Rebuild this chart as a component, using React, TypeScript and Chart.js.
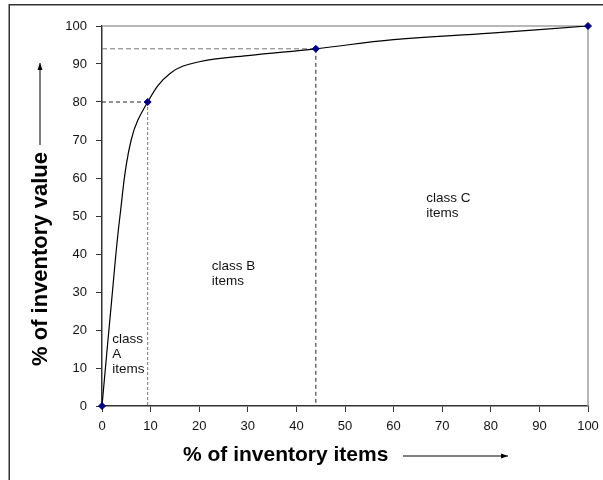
import React, { useEffect, useRef } from 'react';
import { Chart, registerables } from 'chart.js';

Chart.register(...registerables);

// ---- data ----
const curveX = [0, 2, 3.7, 6, 9.4, 14, 20, 30, 44, 60, 80, 100];
const curveY = [0, 28, 50, 70, 80, 87.5, 90.6, 92.2, 94, 96.4, 98.1, 100];
const markerX = [0, 9.4, 44, 100];
const markerY = [0, 80, 94, 100];
const guideX = [9.4, 44];
const guideY = [80, 94];
const xTitle = '% of inventory items';
const yTitle = '% of inventory value';
const classLines = [['class', 'A', 'items'], ['class B', 'items'], ['class C', 'items']];
const classX = [2.1, 22.6, 66.7];
const classY = [17.6, 36.8, 54.7];

const FONT = '"Liberation Sans", Arial, sans-serif';

function drawArrow(ctx: CanvasRenderingContext2D, x1: number, y1: number, x2: number, y2: number) {
  ctx.save();
  ctx.strokeStyle = '#000';
  ctx.fillStyle = '#000';
  ctx.lineWidth = 1;
  ctx.beginPath();
  ctx.moveTo(x1, y1);
  ctx.lineTo(x2, y2);
  ctx.stroke();
  const ang = Math.atan2(y2 - y1, x2 - x1);
  const len = 7, w = 2.5;
  ctx.beginPath();
  ctx.moveTo(x2, y2);
  ctx.lineTo(x2 - len * Math.cos(ang) + w * Math.sin(ang), y2 - len * Math.sin(ang) - w * Math.cos(ang));
  ctx.lineTo(x2 - len * Math.cos(ang) - w * Math.sin(ang), y2 - len * Math.sin(ang) + w * Math.cos(ang));
  ctx.closePath();
  ctx.fill();
  ctx.restore();
}

const decorPlugin = {
  id: 'decor',
  beforeDatasetsDraw(chart: any) {
    const { ctx, chartArea, scales } = chart;
    const xs = scales.x, ys = scales.y;
    ctx.save();
    // plot-area border (gray)
    ctx.strokeStyle = '#a0a0a0';
    ctx.lineWidth = 1.5;
    ctx.beginPath();
    ctx.moveTo(chartArea.left, chartArea.top);
    ctx.lineTo(chartArea.right, chartArea.top);
    ctx.lineTo(chartArea.right, chartArea.bottom);
    ctx.stroke();
    // guide lines
    ctx.lineWidth = 1;
    guideX.forEach((gx, i) => {
      const px = xs.getPixelForValue(gx);
      const py = ys.getPixelForValue(guideY[i]);
      ctx.setLineDash(i === 0 ? [4, 3] : [5, 3]);
      ctx.strokeStyle = i === 0 ? '#222' : '#777';
      ctx.beginPath();
      ctx.moveTo(chartArea.left, py);
      ctx.lineTo(px, py);
      ctx.stroke();
      ctx.setLineDash(i === 0 ? [3, 2] : [4, 3]);
      ctx.strokeStyle = i === 0 ? '#777' : '#222';
      ctx.beginPath();
      ctx.moveTo(px, py);
      ctx.lineTo(px, chartArea.bottom);
      ctx.stroke();
    });
    ctx.restore();
  },
  afterDraw(chart: any) {
    const { ctx, scales } = chart;
    const xs = scales.x, ys = scales.y;
    ctx.save();
    // outer frame
    ctx.strokeStyle = '#333';
    ctx.lineWidth = 1.5;
    ctx.strokeRect(9.25, 4.75, 800, 600);
    // class labels
    ctx.fillStyle = '#111';
    ctx.font = `13.5px ${FONT}`;
    ctx.textAlign = 'left';
    ctx.textBaseline = 'middle';
    classLines.forEach((lines, i) => {
      const px = xs.getPixelForValue(classX[i]);
      const py = ys.getPixelForValue(classY[i]);
      lines.forEach((t, j) => ctx.fillText(t, px, py + j * 15));
    });
    // axis titles
    ctx.fillStyle = '#000';
    ctx.font = `bold 21px ${FONT}`;
    ctx.textAlign = 'left';
    ctx.fillText(xTitle, 183, 455);
    drawArrow(ctx, 403, 456, 508, 456);
    ctx.save();
    ctx.translate(41, 259);
    ctx.rotate(-Math.PI / 2);
    ctx.font = `bold 22px ${FONT}`;
    ctx.textAlign = 'center';
    ctx.fillText(yTitle, 0, 0);
    ctx.restore();
    drawArrow(ctx, 40, 145, 40, 63);
    ctx.restore();
  },
};

export default function App() {
  const ref = useRef<HTMLCanvasElement>(null);
  useEffect(() => {
    if (!ref.current) return;
    const curve = curveX.map((x, i) => ({ x, y: curveY[i] }));
    const marks = markerX.map((x, i) => ({ x, y: markerY[i] }));
    const tickFont = { family: FONT, size: 13 };
    const chart = new Chart(ref.current, {
      type: 'scatter',
      data: {
        datasets: [
          {
            data: curve,
            showLine: true,
            borderColor: '#000',
            borderWidth: 1.2,
            pointRadius: 0,
            tension: 0.4,
            order: 2,
          },
          {
            data: marks,
            showLine: false,
            pointStyle: 'rectRot',
            pointRadius: 3.5,
            backgroundColor: '#000080',
            borderColor: '#000080',
            borderWidth: 1,
            clip: false,
            order: 1,
          },
        ],
      } as any,
      options: {
        animation: false,
        responsive: false,
        events: [],
        layout: { padding: { left: 0, top: 26, right: 15, bottom: 0 } },
        plugins: { legend: { display: false }, tooltip: { enabled: false }, title: { display: false } },
        scales: {
          x: {
            type: 'linear',
            min: 0,
            max: 100,
            ticks: { stepSize: 10, color: '#111', font: tickFont, padding: 7, maxRotation: 0 },
            grid: { drawOnChartArea: false, drawTicks: true, tickLength: 6, color: '#333', lineWidth: 1 },
            border: { color: '#333', width: 1.5 },
            afterFit: (s: any) => { s.height = 74; s.paddingLeft = 0; s.paddingRight = 0; },
          },
          y: {
            type: 'linear',
            min: 0,
            max: 100,
            ticks: { stepSize: 10, color: '#111', font: tickFont, padding: 9 },
            grid: { drawOnChartArea: false, drawTicks: true, tickLength: 6, color: '#333', lineWidth: 1 },
            border: { color: '#333', width: 1.5 },
            afterFit: (s: any) => { s.width = 102; s.paddingTop = 0; s.paddingBottom = 0; },
          },
        },
      } as any,
      plugins: [decorPlugin],
    });
    return () => chart.destroy();
  }, []);
  return (
    <div style={{ position: 'fixed', left: 0, top: 0, width: 603, height: 480, background: '#fff' }}>
      <canvas ref={ref} width={603} height={480} style={{ display: 'block' }} />
    </div>
  );
}
